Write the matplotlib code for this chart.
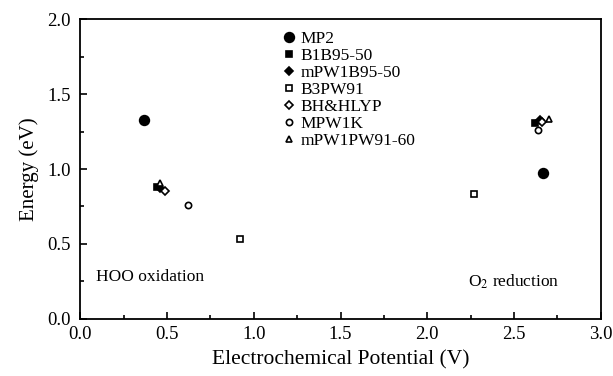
import matplotlib
matplotlib.use("Agg")
import matplotlib.pyplot as plt
from matplotlib.ticker import MultipleLocator

plt.rcParams['font.family'] = ['Liberation Serif', 'DejaVu Serif']
plt.rcParams['mathtext.fontset'] = 'stix'

# data: (HOO oxidation, O2 reduction)
methods = ["MP2", "B1B95-50", "mPW1B95-50", "B3PW91", "BH&HLYP", "MPW1K", "mPW1PW91-60"]
potential_ox = [0.37, 0.44, 0.46, 0.92, 0.49, 0.62, 0.46]
energy_ox = [1.33, 0.88, 0.875, 0.53, 0.855, 0.76, 0.905]
potential_red = [2.67, 2.62, 2.65, 2.27, 2.66, 2.64, 2.70]
energy_red = [0.975, 1.31, 1.325, 0.83, 1.315, 1.26, 1.335]

# marker styles
markers = ["o", "s", "D", "s", "D", "o", "^"]
filled = [True, True, True, False, False, False, False]
sizes = [7, 5, 4, 4.5, 4, 4.5, 5]

fig = plt.figure(figsize=(6.13, 3.76), dpi=100)
ax = fig.add_axes([0.131, 0.152, 0.849, 0.797])

for i in range(len(methods)):
    face = "black" if filled[i] else "white"
    ax.plot([potential_ox[i], potential_red[i]], [energy_ox[i], energy_red[i]],
            linestyle="none", marker=markers[i], markersize=sizes[i],
            markerfacecolor=face, markeredgecolor="black", markeredgewidth=1.2,
            label=methods[i])

ax.text(0.09, 0.28, "HOO oxidation", fontsize=12.5, va="center")
ax.text(2.235, 0.25, "O$_2$ reduction", fontsize=12.5, va="center")

ax.set_xlim(0, 3.0)
ax.set_ylim(0, 2.0)
ax.xaxis.set_major_locator(MultipleLocator(0.5))
ax.xaxis.set_minor_locator(MultipleLocator(0.25))
ax.yaxis.set_major_locator(MultipleLocator(0.5))
ax.yaxis.set_minor_locator(MultipleLocator(0.25))
ax.xaxis.set_major_formatter(plt.FormatStrFormatter("%.1f"))
ax.yaxis.set_major_formatter(plt.FormatStrFormatter("%.1f"))
ax.tick_params(which="both", direction="in", labelsize=13.5, width=1.2)
ax.tick_params(which="major", length=5)
ax.tick_params(which="minor", length=3)
ax.tick_params(axis="x", pad=5)
ax.tick_params(axis="y", pad=7)
for sp in ax.spines.values():
    sp.set_linewidth(1.3)

ax.set_xlabel("Electrochemical Potential (V)", fontsize=15.5, labelpad=5)
ax.set_ylabel("Energy (eV)", fontsize=15, labelpad=6)

ax.legend(loc="upper left", bbox_to_anchor=(0.367, 0.985), frameon=False,
          fontsize=12.5, handletextpad=0.1, labelspacing=0.05, borderaxespad=0,
          handlelength=1.2)

fig.savefig("out.png", dpi=100)
